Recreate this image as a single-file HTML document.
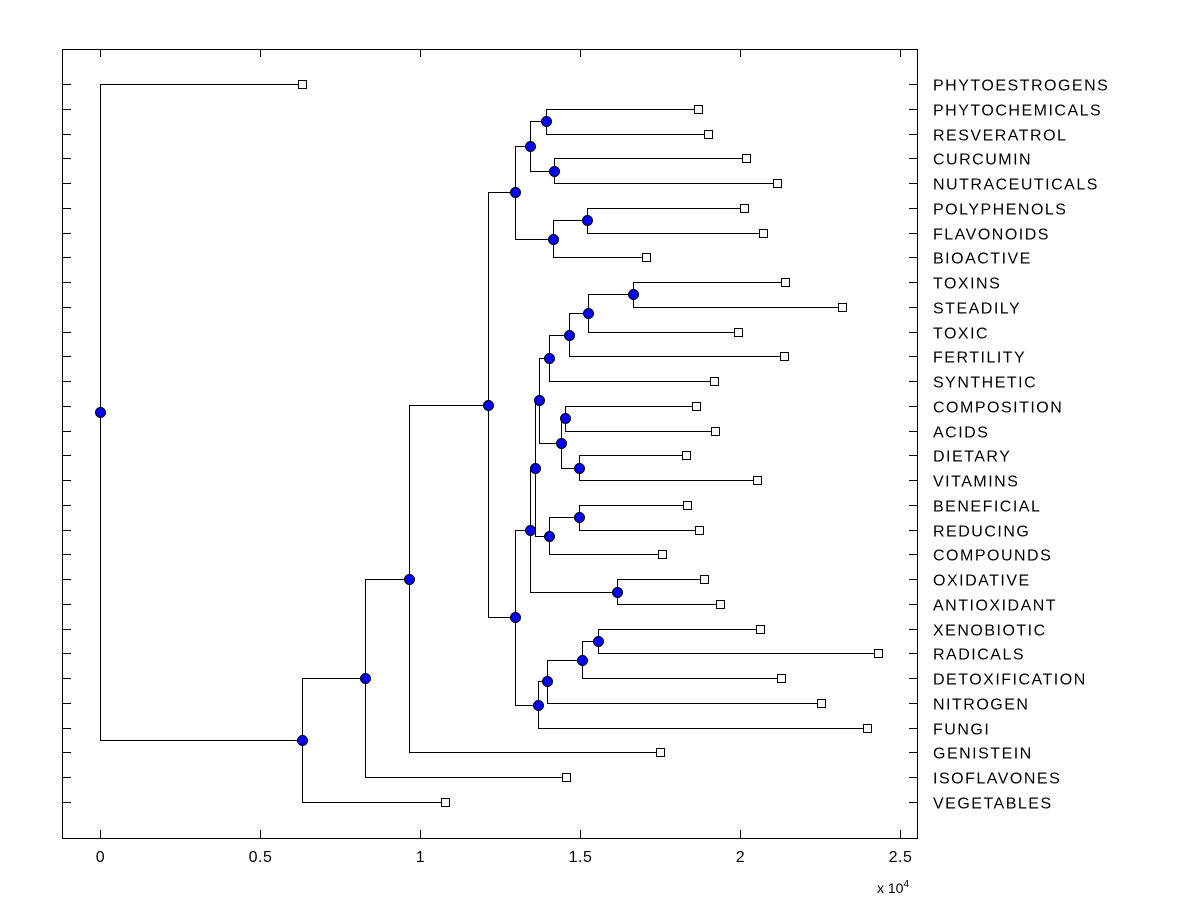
<!DOCTYPE html>
<html><head><meta charset="utf-8"><style>
body{margin:0;background:#fff;}
svg{display:block;font-family:"Liberation Sans",Arial,sans-serif;}
</style></head><body>
<svg id="chart" width="1200" height="900" viewBox="0 0 1200 900"></svg>
<script>
const leafNames=["PHYTOESTROGENS","PHYTOCHEMICALS","RESVERATROL","CURCUMIN","NUTRACEUTICALS","POLYPHENOLS","FLAVONOIDS","BIOACTIVE","TOXINS","STEADILY","TOXIC","FERTILITY","SYNTHETIC","COMPOSITION","ACIDS","DIETARY","VITAMINS","BENEFICIAL","REDUCING","COMPOUNDS","OXIDATIVE","ANTIOXIDANT","XENOBIOTIC","RADICALS","DETOXIFICATION","NITROGEN","FUNGI","GENISTEIN","ISOFLAVONES","VEGETABLES"];
const leafValues=[0.631,1.869,1.9,2.019,2.116,2.013,2.072,1.706,2.141,2.319,1.994,2.138,1.919,1.863,1.922,1.831,2.053,1.834,1.872,1.756,1.888,1.938,2.063,2.431,2.128,2.253,2.397,1.75,1.456,1.078];
const mergeLeft=["L1","L3","N0","L5","N3","N2","L8","N6","N7","N8","L13","L15","N10","N9","L17","N14","N13","L20","N16","L22","N19","N20","N21","N18","N5","N24","N25","N26","L0"];
const mergeRight=["L2","L4","N1","L6","L7","N4","L9","L10","L11","L12","L14","L16","N11","N12","L18","L19","N15","L21","N17","L23","L24","L25","L26","N22","N23","L27","L28","L29","N27"];
const nodeHeights=[1.394,1.419,1.344,1.522,1.416,1.297,1.666,1.525,1.466,1.403,1.453,1.497,1.441,1.372,1.497,1.403,1.359,1.616,1.344,1.556,1.506,1.397,1.369,1.297,1.213,0.966,0.828,0.631,0];
const xTicks=[0,0.5,1,1.5,2,2.5];

const svg=document.getElementById('chart');
const NS='http://www.w3.org/2000/svg';
const X0=62,X1=917,Y0=49,Y1=838;
const xs=v=>100+v*320;
const ys=i=>84+i*(718/29);
function mk(tag,attrs,parent){const e=document.createElementNS(NS,tag);for(const k in attrs)e.setAttribute(k,attrs[k]);(parent||svg).appendChild(e);return e;}

const axis=mk('g',{});


const box=mk('rect',{x:X0+0.5,y:Y0+0.5,width:X1-X0,height:Y1-Y0,fill:'none',stroke:'#000','stroke-width':1},axis);


xTicks.forEach(t=>{
  const x=Math.round(xs(t))+0.5;
  mk('line',{x1:x,x2:x,y1:Y1,y2:Y1-8,stroke:'#000'},axis);
  mk('line',{x1:x,x2:x,y1:Y0,y2:Y0+8,stroke:'#000'},axis);
  const tl=mk('text',{x:x,y:862,'font-size':16,'text-anchor':'middle','letter-spacing':0.5},axis);
  tl.textContent=String(t);
  
  
});
const ex=mk('text',{x:877,y:893,'font-size':14},axis);
ex.innerHTML='x 10<tspan dy="-6" font-size="10">4</tspan>';



leafNames.forEach((n,i)=>{
  const y=Math.round(ys(i))+0.5;
  mk('line',{x1:X0,x2:X0+9,y1:y,y2:y,stroke:'#000'},axis);
  mk('line',{x1:X1-8,x2:X1,y1:y,y2:y,stroke:'#000'},axis);
  const t=mk('text',{x:933,y:y+6,'font-size':16,'letter-spacing':1.5},axis);
  t.textContent=n;
  
  
});

const nodes=[];
function pos(ref){const i=+ref.slice(1);if(ref[0]==='L')return{x:xs(leafValues[i]),y:ys(i)};return nodes[i];}
const links=mk('g',{});


const markers=mk('g',{});
for(let k=0;k<nodeHeights.length;k++){
  const a=pos(mergeLeft[k]),b=pos(mergeRight[k]);
  const x=Math.round(xs(nodeHeights[k]))+0.5;
  const y=(a.y+b.y)/2;
  nodes.push({x:x,y:y});
  [a,b].forEach(c=>{
    const cy=Math.round(c.y)+0.5;
    const l=mk('path',{d:`M${x},${Math.round(y)+0.5}V${cy}H${Math.round(c.x)}`,fill:'none',stroke:'#000','stroke-width':1},links);
    
    
  });
}
leafNames.forEach((n,i)=>{
  const r=mk('rect',{x:Math.round(xs(leafValues[i]))-3.5,y:Math.round(ys(i))-3.5,width:8,height:8,fill:'#fff',stroke:'#000'},markers);
  
  
});
nodes.forEach(n=>{
  const c=mk('circle',{cx:n.x,cy:Math.round(n.y)+0.5,r:5,fill:'#0000ff',stroke:'#000','stroke-width':1},markers);
  
  
});
</script>
</body></html>
